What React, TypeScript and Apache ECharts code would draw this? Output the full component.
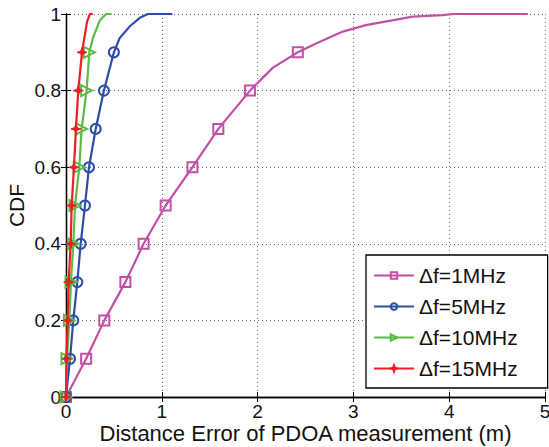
import React, { useEffect, useRef } from "react";
import * as echarts from "echarts";

// ---- data ----
const seriesNames = ["Δf=1MHz", "Δf=5MHz", "Δf=10MHz", "Δf=15MHz"];

const x1MHz = [0, 0.21, 0.4, 0.62, 0.81, 1.04, 1.32, 1.59, 1.92, 2.16, 2.42, 2.61, 2.89, 3.13, 3.62, 3.93, 4.05, 4.82];
const y1MHz = [0, 0.1, 0.2, 0.3, 0.4, 0.5, 0.6, 0.7, 0.8, 0.86, 0.9, 0.923, 0.954, 0.971, 0.993, 0.997, 1, 1];

const x5MHz = [0, 0.042, 0.076, 0.118, 0.153, 0.198, 0.24, 0.31, 0.396, 0.5, 0.56, 0.667, 0.77, 0.855, 1.11];
const y5MHz = [0, 0.1, 0.2, 0.3, 0.4, 0.5, 0.6, 0.7, 0.8, 0.9, 0.937, 0.968, 0.99, 1, 1];

const x10MHz = [0, 0.01, 0.035, 0.052, 0.076, 0.094, 0.139, 0.163, 0.215, 0.243, 0.285, 0.354, 0.42, 0.476];
const y10MHz = [0, 0.1, 0.2, 0.3, 0.4, 0.5, 0.6, 0.7, 0.8, 0.9, 0.94, 0.984, 1, 1];

const x15MHz = [0, 0.005, 0.018, 0.028, 0.049, 0.059, 0.083, 0.104, 0.128, 0.167, 0.2, 0.22, 0.25, 0.28];
const y15MHz = [0, 0.1, 0.2, 0.3, 0.4, 0.5, 0.6, 0.7, 0.8, 0.9, 0.95, 0.98, 1, 1];

// y-levels that carry a marker
const markerLevels = [0, 0.1, 0.2, 0.3, 0.4, 0.5, 0.6, 0.7, 0.8, 0.9];

const colors = ["#C04FA6", "#2B4DA6", "#5CBB46", "#EE1D24"];

const STAR = "path://M0,-10 L2.6,-2.6 L10,0 L2.6,2.6 L0,10 L-2.6,2.6 L-10,0 L-2.6,-2.6 Z";

function buildData(xs: number[], ys: number[]) {
  return xs.map((x, i) => {
    const y = ys[i];
    const isMarker = markerLevels.some((m) => Math.abs(m - y) < 1e-9) &&
      !(i > 0 && Math.abs(ys[i - 1] - y) < 1e-9);
    return isMarker ? { value: [x, y] } : { value: [x, y], symbol: "none" };
  });
}

export default function App() {
  const ref = useRef<HTMLDivElement>(null);
  useEffect(() => {
    if (!ref.current) return;
    const chart = echarts.init(ref.current, undefined, { renderer: "svg" });
    const font = "Liberation Sans, Arial, Helvetica, sans-serif";
    const dataSets = [
      buildData(x1MHz, y1MHz),
      buildData(x5MHz, y5MHz),
      buildData(x10MHz, y10MHz),
      buildData(x15MHz, y15MHz),
    ];
    const symbols = ["rect", "circle", "triangle", STAR];
    const sizes = [10, 10, 11, 10];
    const rotates = [0, 0, -90, 0];
    const hollow = [true, true, true, false];

    const axisLine = { show: true, lineStyle: { color: "#000", width: 1.3 } };
    const splitLine = { show: true, lineStyle: { color: "#666", width: 1, type: [1, 3] as any } };

    chart.setOption({
      animation: false,
      backgroundColor: "#fff",
      textStyle: { fontFamily: font },
      grid: {
        left: 66,
        top: 14,
        width: 479,
        height: 383,
        containLabel: false,
        outerBoundsMode: "none",
      },
      legend: {
        orient: "vertical",
        left: 366,
        top: 255,
        data: seriesNames,
        backgroundColor: "#fff",
        borderColor: "#000",
        borderWidth: 1.3,
        padding: [10, 30, 9, 7],
        itemWidth: 40,
        itemHeight: 8,
        itemGap: 10,
        textStyle: { fontSize: 21, color: "#111", fontFamily: font, lineHeight: 20 },
      },
      xAxis: [
        {
          type: "value",
          min: 0,
          max: 5,
          interval: 1,
          name: "Distance Error of PDOA measurement (m)",
          nameLocation: "middle",
          nameGap: 25,
          nameMoveOverlap: false,
          nameTextStyle: { fontSize: 22, color: "#111", fontFamily: font },
          axisLine,
          axisTick: { show: true, inside: true, length: 5, lineStyle: { color: "#000" } },
          axisLabel: { fontSize: 19, color: "#111", margin: 5, fontFamily: font },
          splitLine,
        },
        {
          type: "value",
          position: "top",
          min: 0,
          max: 5,
          interval: 1,
          axisLine,
          axisTick: { show: true, inside: true, length: 5, lineStyle: { color: "#000" } },
          axisLabel: { show: false },
          splitLine: { show: false },
        },
      ],
      yAxis: [
        {
          type: "value",
          min: 0,
          max: 1,
          interval: 0.2,
          name: "CDF",
          nameLocation: "middle",
          nameGap: 39,
          nameMoveOverlap: false,
          nameTextStyle: { fontSize: 21, color: "#111", fontFamily: font },
          axisLine,
          axisTick: { show: true, inside: true, length: 5, lineStyle: { color: "#000" } },
          axisLabel: {
            fontSize: 19,
            color: "#111",
            margin: 5,
            fontFamily: font,
            formatter: (v: number) => String(Math.round(v * 10) / 10),
          },
          splitLine,
        },
        {
          type: "value",
          position: "right",
          min: 0,
          max: 1,
          interval: 0.2,
          axisLine,
          axisTick: { show: true, inside: true, length: 5, lineStyle: { color: "#000" } },
          axisLabel: { show: false },
          splitLine: { show: false },
        },
      ],
      series: dataSets.map((d, i) => ({
        name: seriesNames[i],
        type: "line",
        xAxisIndex: 0,
        yAxisIndex: 0,
        data: d,
        showSymbol: true,
        showAllSymbol: true,
        symbol: symbols[i],
        symbolSize: sizes[i],
        symbolRotate: rotates[i],
        lineStyle: { color: colors[i], width: 2.2 },
        itemStyle: hollow[i]
          ? { color: "rgba(255,255,255,0)", borderColor: colors[i], borderWidth: 2 }
          : { color: colors[i], borderColor: colors[i], borderWidth: 1 },
        emphasis: { disabled: true },
        z: 2 + i,
      })),
    });
    return () => chart.dispose();
  }, []);
  return (
    <div
      ref={ref}
      style={{ position: "fixed", left: 0, top: 0, width: 549, height: 447 }}
    />
  );
}
